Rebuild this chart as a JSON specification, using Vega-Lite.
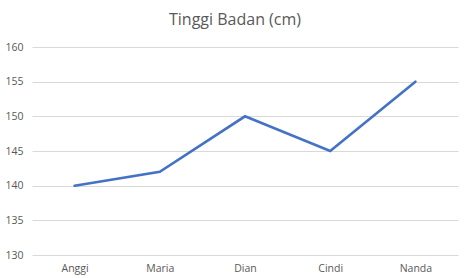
{
  "$schema": "https://vega.github.io/schema/vega-lite/v6.json",
  "autosize": "none",
  "width": 426,
  "height": 208,
  "padding": {"left": 32, "top": 47, "right": 12, "bottom": 23},
  "background": "white",
  "title": {"text": "Tinggi Badan (cm)", "font": "Open Sans", "fontSize": 16, "fontWeight": "normal", "color": "#595959", "anchor": "middle", "offset": 14, "dx": -10},
  "data": {"values": [
    {"nama": "Anggi", "tinggi": 140},
    {"nama": "Maria", "tinggi": 142},
    {"nama": "Dian", "tinggi": 150},
    {"nama": "Cindi", "tinggi": 145},
    {"nama": "Nanda", "tinggi": 155}
  ]},
  "mark": {"type": "line", "color": "#4472C4", "strokeWidth": 2.6, "strokeCap": "round"},
  "encoding": {
    "x": {"field": "nama", "type": "nominal", "sort": null, "scale": {"type": "point", "padding": 0.5},
      "axis": {"title": null, "labelAngle": 0, "ticks": false, "domain": false, "grid": false, "labelFont": "Open Sans", "labelFontSize": 10.5, "labelColor": "#595959", "labelPadding": 8}},
    "y": {"field": "tinggi", "type": "quantitative", "scale": {"domain": [130, 160], "nice": false, "zero": false},
      "axis": {"title": null, "values": [130, 135, 140, 145, 150, 155, 160], "ticks": false, "domain": false, "gridColor": "#D9D9D9", "gridWidth": 1, "labelFont": "Open Sans", "labelFontSize": 10.5, "labelColor": "#595959", "labelPadding": 9}}
  },
  "config": {"view": {"stroke": null}}
}
